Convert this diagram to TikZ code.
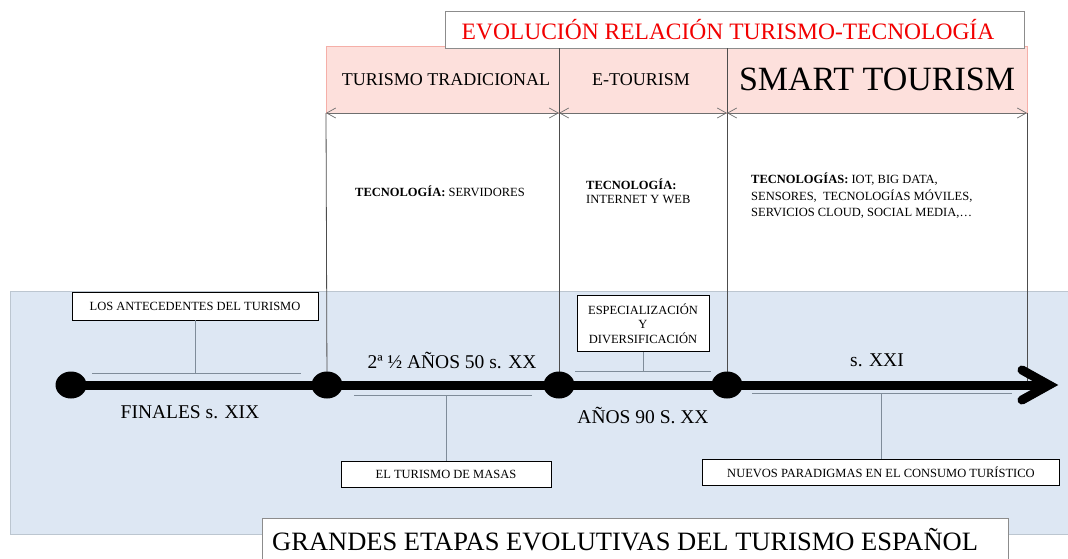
\documentclass[tikz,border=0pt]{standalone}
\usepackage{fontspec}
\setmainfont{Liberation Serif}
\usetikzlibrary{arrows.meta,shapes.geometric}
\definecolor{bgblue}{HTML}{DDE7F3}
\definecolor{bgedge}{HTML}{BCC6D0}
\definecolor{pinkfill}{HTML}{FDE0DC}
\definecolor{pinkedge}{HTML}{F5AFA8}
\definecolor{titleedge}{HTML}{8C8C8C}
\definecolor{vgray}{HTML}{4D4D4D}
\definecolor{dimgray}{HTML}{6E6E6E}
\definecolor{brgray}{HTML}{7F8C99}
\definecolor{titlered}{HTML}{F20000}
\begin{document}
\begin{tikzpicture}[x=1pt,y=-1pt,
  smallbox/.style={draw=black,line width=0.8pt,fill=white,inner sep=0pt,align=center,
    font=\fontsize{12.5}{14.5}\selectfont},
  dot/.style={ellipse,fill=black,minimum width=31pt,minimum height=27pt,inner sep=0pt},
  vline/.style={draw=vgray,line width=0.8pt},
  dimline/.style={draw=dimgray,line width=0.7pt,{Straight Barb[length=9pt,width=10pt]}-{Straight Barb[length=9pt,width=10pt]}},
  bracket/.style={draw=brgray,line width=0.8pt},
  era/.style={font=\fontsize{19.5}{22}\selectfont,inner sep=0pt},
  tech/.style={font=\fontsize{12.5}{14}\selectfont,align=left,inner sep=0pt,anchor=north west},
  stage/.style={font=\fontsize{18}{20}\selectfont,inner sep=0pt}
]
\useasboundingbox (0,0) rectangle (1068,558);
\clip (0,0) rectangle (1068,558);

% blue background
\fill[bgblue,draw=bgedge,line width=0.8pt] (10,291) rectangle (1075,534);

% bottom title box
\draw[titleedge,fill=white,line width=1pt] (262,518) rectangle (1008,575);
\node[inner sep=0pt,anchor=base west,font=\fontsize{26.5}{30}\selectfont] (maintitle) at (272,550) {GRANDES ETAPAS EVOLUTIVAS DEL TURISMO ESPAÑOL};

% pink bar
\draw[pinkedge,fill=pinkfill,line width=1pt] (326,46) rectangle (1027,113);

% top title box
\draw[titleedge,fill=white,line width=1pt] (445,11) rectangle (1024,48);
\node[inner sep=0pt,text=titlered,font=\fontsize{23.5}{26}\selectfont] (toptitle) at (728,30) {EVOLUCIÓN RELACIÓN TURISMO-TECNOLOGÍA};

% stage labels
\node[stage] (tt) at (446,80) {TURISMO TRADICIONAL};
\node[stage] (et) at (641,80) {E-TOURISM};
\node[inner sep=0pt,font=\fontsize{34}{38}\selectfont] (st) at (877,79) {SMART TOURISM};

% coordinates for dimension line and verticals
\coordinate (d0) at (326,113);
\coordinate (d1) at (559,113);
\coordinate (d2) at (727,113);
\coordinate (d3) at (1027,113);
\coordinate (t1) at (559,48);
\coordinate (t2) at (727,48);
\coordinate (v4end) at (1027,381);

% timeline
\coordinate (p1) at (71,385);
\coordinate (p2) at (327,385);
\coordinate (p3) at (559,385);
\coordinate (p4) at (727,385);
\coordinate (shaftend) at (1046,385);
\coordinate (tip) at (1049,385);
\coordinate (au) at (1022,370);
\coordinate (ad) at (1022,400);

\draw[vline] (d0) -- (p2);
\draw[vline] (t1) -- (p3);
\draw[vline] (t2) -- (p4);
\draw[vline] (d3) -- (v4end);

\draw[dimline] (d0) -- (d1);
\draw[dimline] (d1) -- (d2);
\draw[dimline] (d2) -- (d3);

\draw[black,line width=9pt] (p1) -- (shaftend);
\draw[black,line width=9pt,line cap=round,line join=miter] (au) -- (tip) -- (ad);

\node[dot] (c1) at (p1) {};
\node[dot] (c2) at (p2) {};
\node[dot] (c3) at (p3) {};
\node[dot] (c4) at (p4) {};

% technology texts
\node[tech] (tech1) at (355,186) {\textbf{TECNOLOGÍA:} SERVIDORES};
\node[tech] (tech2) at (586,179) {\textbf{TECNOLOGÍA:}\\INTERNET Y WEB};
\node[tech,font=\fontsize{12.5}{16.5}\selectfont] (tech3) at (751,173) {\textbf{TECNOLOGÍAS:} IOT, BIG DATA,\\SENSORES,\ \ TECNOLOGÍAS MÓVILES,\\SERVICIOS CLOUD, SOCIAL MEDIA,…};

% era labels
\node[era] (e1) at (190,412) {FINALES s. XIX};
\node[era] (e2) at (452,360) {2ª ½ AÑOS 50 s. XX};
\node[era] (e3) at (643,415) {AÑOS 90 S. XX};
\node[era] (e4) at (877,360) {s. XXI};

% label boxes
\node[smallbox,minimum width=246pt,minimum height=28pt] (b1) at (195,306) {LOS ANTECEDENTES DEL TURISMO};
\node[smallbox,minimum width=132pt,minimum height=56pt] (b3) at (643,323.5) {ESPECIALIZACIÓN\\Y\\DIVERSIFICACIÓN};
\node[smallbox,minimum width=210pt,minimum height=26pt] (b2) at (446,474) {EL TURISMO DE MASAS};
\node[smallbox,minimum width=357pt,minimum height=26pt] (b4) at (881,472) {NUEVOS PARADIGMAS EN EL CONSUMO TURÍSTICO};

% brackets
\coordinate (br1l) at (92,373);
\coordinate (br1r) at (301,373);
\coordinate (br2l) at (354,395);
\coordinate (br2r) at (532,395);
\coordinate (br3l) at (575,371);
\coordinate (br3r) at (711,371);
\coordinate (br4l) at (752,393);
\coordinate (br4r) at (1012,393);

\draw[bracket] (br1l) -- (br1r);
\draw[bracket] (b1.south) -- (b1.south |- br1l);
\draw[bracket] (br2l) -- (br2r);
\draw[bracket] (b2.north) -- (b2.north |- br2l);
\draw[bracket] (br3l) -- (br3r);
\draw[bracket] (b3.south) -- (b3.south |- br3l);
\draw[bracket] (br4l) -- (br4r);
\draw[bracket] (b4.north) -- (b4.north |- br4l);
\end{tikzpicture}
\end{document}
